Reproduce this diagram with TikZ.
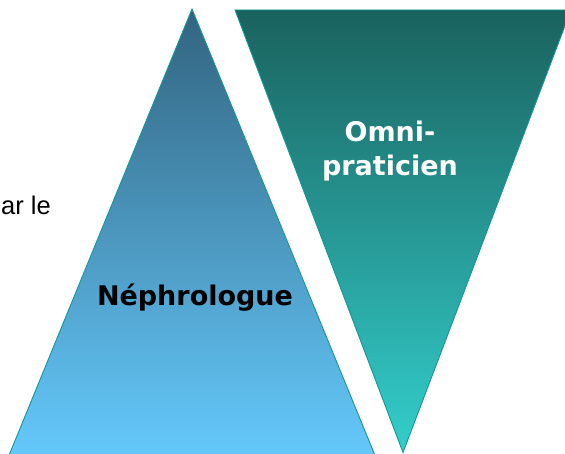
\documentclass[tikz,border=0pt]{standalone}
\usepackage{fontspec}
\setmainfont{Liberation Sans}
\newfontfamily\titrefont{DejaVu Sans}
\usetikzlibrary{positioning}
\definecolor{bleuHaut}{RGB}{50,100,128}
\definecolor{bleuBas}{RGB}{102,204,255}
\definecolor{vertHaut}{RGB}{26,98,94}
\definecolor{vertBas}{RGB}{51,206,204}
\definecolor{bord}{RGB}{22,150,150}

\tikzset{
  triangle/.style={draw=bord,line width=0.9pt,line join=miter},
  etiquette/.style={inner sep=0pt,font=\titrefont\bfseries\fontsize{27}{34}\selectfont},
  texte/.style={inner sep=0pt,font=\fontsize{25.5}{30}\selectfont}
}

\begin{document}
\begin{tikzpicture}[x=1pt,y=1pt]
  \useasboundingbox (0,0) rectangle (565,454);
  \clip (0,0) rectangle (565,454);
  % triangle du bas (nephrologue)
  \shade[triangle,top color=bleuHaut,bottom color=bleuBas]
    (192,445) -- (3,-16) -- (381,-16) -- cycle;
  % triangle renverse (omnipraticien)
  \shade[triangle,top color=vertHaut,bottom color=vertBas]
    (235,444) -- (571,444) -- (403,1.5) -- cycle;
  \node[texte,anchor=base east] (parle) at (51,239.5) {ar le};
  \node[etiquette,anchor=base] (nephro) at (195,148) {Néphrologue};
  \node[etiquette,text=white,align=center] (omni) at (390,303) {Omni-\\praticien};
\end{tikzpicture}
\end{document}
